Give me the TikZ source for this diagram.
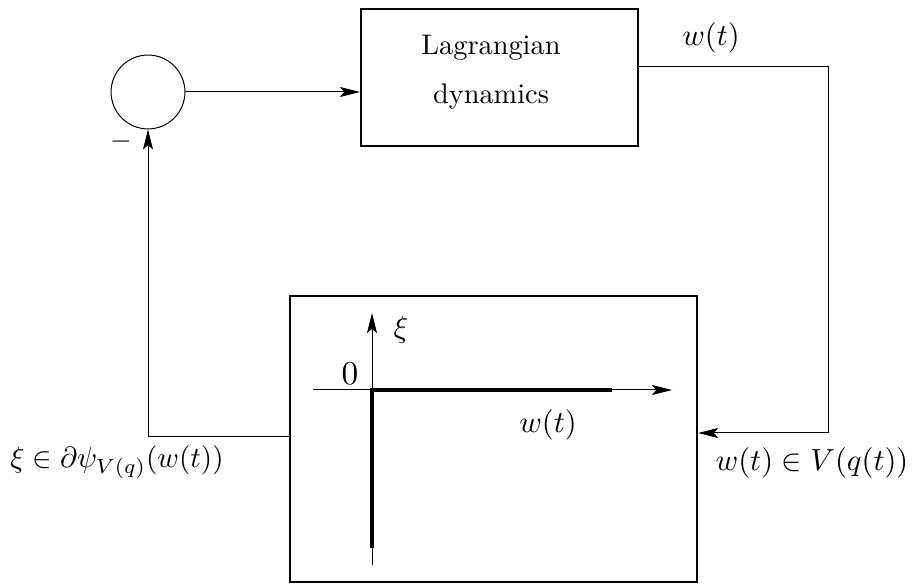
\documentclass[tikz,border=0pt]{standalone}
\usetikzlibrary{arrows.meta}
\begin{document}
\begin{tikzpicture}[x=0.36pt,y=-0.36pt,
  thin line/.style={line width=0.36pt},
  arr/.style={-{Stealth[length=7.2pt,width=3.6pt,inset=1.5pt]}},
  blk/.style={draw,line width=0.75pt,inner sep=0pt,anchor=north west},
  lbl/.style={inner sep=0pt},
  big/.style={inner sep=0pt,scale=1.1}]
\useasboundingbox (0,0) rectangle (912,584);
% blocks
\node[draw,circle,line width=0.36pt,minimum size=26.6pt,inner sep=0pt] (sum) at (148,92) {};
\node[blk,minimum width=99.7pt,minimum height=49.3pt] (lag) at (360,8) {};
\node[lbl,align=center,scale=1.02] (lagtxt) at (491,72) {Lagrangian\\[5.3pt]dynamics};
\node[blk,minimum width=146.5pt,minimum height=103pt] (nc) at (289,295) {};
% connectors
\draw[thin line,arr] (sum.east) -- (lag.west |- sum.east);
\coordinate (outR) at (828,67);
\coordinate (inR) at (828,433);
\draw[thin line,arr] (lag.east |- outR) -- (outR) -- (inR) -- (nc.east |- inR);
\coordinate (fbL) at (148,437);
\draw[thin line,arr] (nc.west |- fbL) -- (fbL) -- (sum.south);
% labels
\node[lbl] (minus) at (121,142) {$-$};
\node[big] (wout) at (711,38) {$w(t)$};
\node[lbl,scale=1.05] (xilab) at (117,462) {$\xi\in\partial\psi_{V(q)}(w(t))$};
\node[big] (wlab) at (812,463) {$w(t)\in V(q(t))$};
% graph inside
\coordinate (vb) at (372,565);
\coordinate (vt) at (372,313);
\coordinate (hl) at (313,390);
\coordinate (hr) at (672,390);
\draw[thin line,arr] (vb) -- (vt);
\draw[thin line,arr] (hl) -- (hr);
\coordinate (g1) at (372,548);
\coordinate (g0) at (372,390);
\coordinate (g2) at (612,390);
\draw[line width=1.1pt] (g1) -- (g0) -- (g2);
\node[lbl,scale=1.2] (zero) at (350,374) {$0$};
\node[big] (xi) at (401,330) {$\xi$};
\node[big] (wax) at (548,425) {$w(t)$};
\end{tikzpicture}
\end{document}
